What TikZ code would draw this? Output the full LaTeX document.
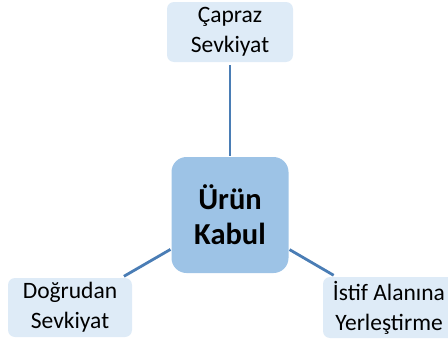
\documentclass[tikz,border=0pt]{standalone}
\usepackage{fontspec}
\setmainfont{Carlito}
\definecolor{leafblue}{HTML}{DEEBF7}
\definecolor{hubblue}{HTML}{9DC3E6}
\definecolor{linkblue}{HTML}{4A7DB5}
\begin{document}
\begin{tikzpicture}[x=1pt,y=-1pt,
  leaf/.style={fill=leafblue, rounded corners=7pt, minimum width=126pt,
    minimum height=60pt, align=center, inner sep=0pt,
    font=\fontsize{23.5}{30}\selectfont},
  hub/.style={fill=hubblue, rounded corners=15pt, minimum width=117pt,
    minimum height=116pt, align=center, inner sep=0pt,
    font=\bfseries\fontsize{30.5}{35}\selectfont},
  link/.style={draw=linkblue, line width=2.8pt, shorten <=1pt, shorten >=3pt}]
\useasboundingbox (0,0) rectangle (448,343);
\clip (0,0) rectangle (448,343);
% central node and its three branches
\node[hub] (hub) at (230,215) {Ürün\\Kabul};
\node[leaf] (top) at (230,32) {Çapraz\\Sevkiyat};
\node[leaf, minimum width=124pt, minimum height=59pt] (left) at (70,307.5) {Doğrudan\\Sevkiyat};
\node[leaf, minimum width=132pt, minimum height=61pt] (right) at (389,307.5) {İstif Alanına\\Yerleştirme};
% connectors
\draw[link] (hub) -- (top);
\draw[link] (hub) -- (left);
\draw[link] (hub) -- (right);
\end{tikzpicture}
\end{document}
